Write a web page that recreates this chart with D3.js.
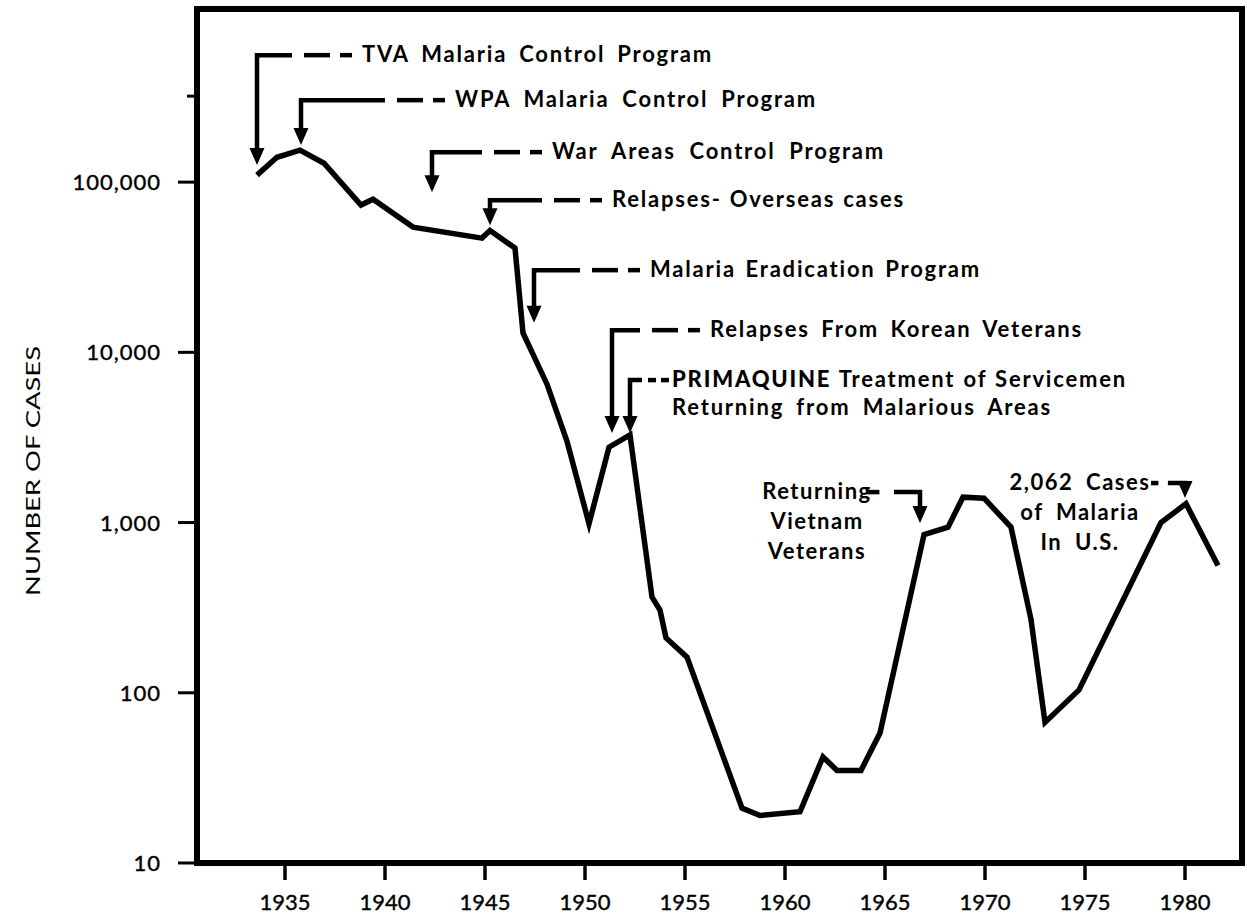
<!DOCTYPE html>
<html>
<head>
<meta charset="utf-8">
<script src="https://cdn.jsdelivr.net/npm/d3@7"></script>
<style>
  body { margin: 0; background: #fff; }
  svg text { font-family: Lato, "DejaVu Sans", sans-serif; fill: #000; }
</style>
</head>
<body>
<svg id="chart" width="1247" height="919"></svg>
<script>
// malaria cases in the U.S.
const years = [1933.6, 1934.6, 1935.75, 1936.95, 1938.8, 1939.4, 1941.4, 1944.85, 1945.25, 1946.5,
  1946.9, 1948.1, 1949.1, 1950.2, 1951.2, 1952.25, 1953.35, 1953.75, 1954.05, 1955.1,
  1957.85, 1958.75, 1960.75, 1961.9, 1962.6, 1963.8, 1964.75, 1966.95, 1968.15, 1968.9,
  1969.95, 1971.3, 1972.3, 1973.0, 1974.7, 1978.8, 1980.05, 1981.65];
const cases = [110000, 140000, 154000, 129000, 73300, 79400, 54400, 46900, 52000, 41000,
  13000, 6500, 3000, 985, 2770, 3270, 365, 306, 210, 162,
  21, 19, 20, 42, 35, 35, 58, 850, 940, 1410,
  1390, 940, 270, 67, 104, 1000, 1290, 560];

const xTicks = [1935, 1940, 1945, 1950, 1955, 1960, 1965, 1970, 1975, 1980];
const yTicks = [10, 100, 1000, 10000, 100000];
const yTickLabels = ['10', '100', '1,000', '10,000', '100,000'];
const yExtraTicks = [320000];
const xDomain = [1930.6, 1982.85];
const yDomain = [10, 1040000];

// annotations: year of arrow, value at arrow tip, value of the elbow, where the text sits
const notes = [
  { lines: ['TVA Malaria Control Program'], year: 1933.6, tip: 126000, corner: 557000, textYear: 1938.85, widths: [351] },
  { lines: ['WPA Malaria Control Program'], year: 1935.8, tip: 165000, corner: 303000, textYear: 1943.5, widths: [362] },
  { lines: ['War Areas Control Program'], year: 1942.35, tip: 87100, corner: 150000, textYear: 1948.35, widths: [333] },
  { lines: ['Relapses- Overseas cases'], year: 1945.25, tip: 55800, corner: 78300, textYear: 1951.35, widths: [293] },
  { lines: ['Malaria Eradication Program'], year: 1947.45, tip: 14900, corner: 30400, textYear: 1953.25, widths: [331] },
  { lines: ['Relapses From Korean Veterans'], year: 1951.35, tip: 3360, corner: 13500, textYear: 1956.25, widths: [373] },
  { lines: ['PRIMAQUINE| Treatment of Servicemen', 'Returning from Malarious Areas'], year: 1952.25, tip: 3360, corner: 6870, textYear: 1954.35, widths: [455, 380] }
];
const sideNotes = [
  { lines: ['Returning', 'Vietnam', 'Veterans'], year: 1966.75, tip: 993, corner: 1510, textYear: 1961.6, textEnd: 1963.85 },
  { lines: ['2,062 Cases', 'of Malaria', 'In U.S.'], year: 1980.0, tip: 1393, corner: 1706, textYear: 1974.75, textEnd: 1978.1 }
];

const svg = d3.select('#chart');
const plotLeft = 197, plotRight = 1242, plotTop = 9, plotBottom = 863;

const x = d3.scaleLinear().domain(xDomain).range([plotLeft, plotRight]);
const y = d3.scaleLog().domain(yDomain).range([plotBottom, plotTop]);

// frame
svg.append('rect')
  .attr('x', plotLeft).attr('y', plotTop)
  .attr('width', plotRight - plotLeft).attr('height', plotBottom - plotTop)
  .attr('fill', 'none').attr('stroke', '#000').attr('stroke-width', 6);

// y ticks + labels
svg.selectAll('.ytick').data(yTicks).enter().append('line')
  .attr('x1', plotLeft - 19).attr('x2', plotLeft)
  .attr('y1', d => y(d)).attr('y2', d => y(d))
  .attr('stroke', '#000').attr('stroke-width', 3);
svg.selectAll('.yextra').data(yExtraTicks).enter().append('line')
  .attr('x1', plotLeft - 10).attr('x2', plotLeft)
  .attr('y1', d => y(d)).attr('y2', d => y(d))
  .attr('stroke', '#000').attr('stroke-width', 3);
svg.selectAll('.ylab').data(yTicks).enter().append('text')
  .attr('x', plotLeft - 36).attr('y', d => y(d) + 8)
  .attr('text-anchor', 'end')
  .attr('font-size', 22).attr('letter-spacing', 1)
  .attr('stroke', '#000').attr('stroke-width', 0.4)
  .text((d, i) => yTickLabels[i]);

// x ticks + labels
svg.selectAll('.xtick').data(xTicks).enter().append('line')
  .attr('x1', d => x(d)).attr('x2', d => x(d))
  .attr('y1', plotBottom).attr('y2', plotBottom + 17)
  .attr('stroke', '#000').attr('stroke-width', 3.5);
svg.selectAll('.xlab').data(xTicks).enter().append('text')
  .attr('x', d => x(d)).attr('y', plotBottom + 47)
  .attr('text-anchor', 'middle')
  .attr('font-size', 22)
  .attr('stroke', '#000').attr('stroke-width', 0.4)
  .text(d => d);

svg.append('text')
  .attr('transform', `translate(40,${(plotTop + plotBottom) / 2 + 35}) rotate(-90)`)
  .attr('text-anchor', 'middle')
  .attr('font-size', 20)
  .attr('textLength', 250).attr('lengthAdjust', 'spacingAndGlyphs')
  .text('NUMBER OF CASES');

// the data line
const line = d3.line().x(d => x(d[0])).y(d => y(d[1]));
svg.append('path')
  .datum(years.map((yr, i) => [yr, cases[i]]))
  .attr('d', line)
  .attr('fill', 'none').attr('stroke', '#000')
  .attr('stroke-width', 5.5).attr('stroke-linejoin', 'miter');

// arrows
const ann = svg.append('g').attr('stroke', '#000').attr('stroke-width', 4.5).attr('fill', 'none');
function arrowHead(ax, ty) {
  svg.append('path')
    .attr('d', `M${ax - 7.5},${ty - 17}L${ax + 7.5},${ty - 17}L${ax},${ty}Z`)
    .attr('fill', '#000');
}
function seg(x1, x2, yy) {
  ann.append('line').attr('x1', x1).attr('x2', x2).attr('y1', yy).attr('y2', yy);
}
// spread the words so a line spans the width it has in the original
function fitWords(t, width) {
  const spaces = (t.text().match(/ /g) || []).length;
  if (!spaces) return;
  const natural = t.node().getComputedTextLength();
  t.attr('word-spacing', Math.max(0, (width - natural) / spaces));
}

notes.forEach(n => {
  const ax = x(n.year), cy = y(n.corner), ty = y(n.tip), tx = x(n.textYear);
  const gap = tx - ax;
  let solidEnd;
  if (gap > 80) {
    seg(tx - 22, tx - 10, cy);
    seg(tx - 58, tx - 32, cy);
    solidEnd = tx - 70;
  } else {
    seg(tx - 11, tx - 3, cy);
    seg(tx - 24, tx - 16, cy);
    solidEnd = tx - 30;
  }
  ann.append('path').attr('d', `M${solidEnd},${cy}L${ax},${cy}L${ax},${ty - 14}`);
  arrowHead(ax, ty);

  n.lines.forEach((ln, i) => {
    const t = svg.append('text')
      .attr('x', tx).attr('y', cy + 7 + i * 28)
      .attr('font-size', 22).attr('font-weight', 700)
      .attr('letter-spacing', 1.8);
    const parts = ln.split('|');
    if (parts.length > 1) {
      t.append('tspan').attr('font-weight', 900).text(parts[0]);
      t.append('tspan').text(parts[1]);
    } else {
      t.text(ln);
    }
    fitWords(t, n.widths[i]);
  });
});

sideNotes.forEach(n => {
  const ax = x(n.year), cy = y(n.corner), ty = y(n.tip), te = x(n.textEnd);
  const d = ax - te;
  seg(te + 4, te + d * 0.3, cy);
  ann.append('path').attr('d', `M${te + d * 0.55},${cy}L${ax},${cy}L${ax},${ty - 14}`);
  arrowHead(ax, ty);
  n.lines.forEach((ln, i) => {
    svg.append('text')
      .attr('x', x(n.textYear)).attr('y', cy + 7 + i * 30)
      .attr('text-anchor', 'middle')
      .attr('font-size', 22).attr('font-weight', 700)
      .attr('letter-spacing', 1.5)
      .attr('word-spacing', 6)
      .text(ln);
  });
});
</script>
</body>
</html>
